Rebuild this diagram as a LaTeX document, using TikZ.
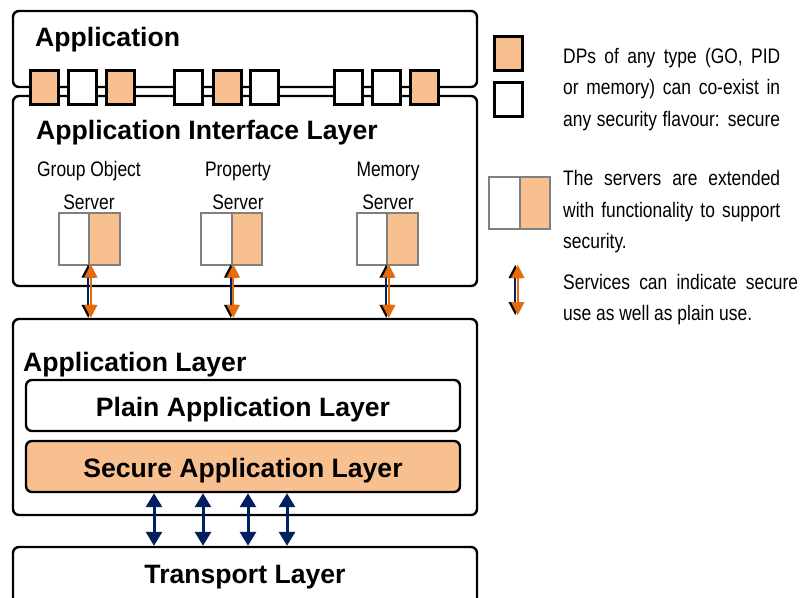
\documentclass[tikz,border=0pt]{standalone}
\usepackage{fontspec}
\setmainfont{Liberation Sans}
\newfontfamily\narrowfont[FakeStretch=0.83]{Liberation Sans}
\usetikzlibrary{arrows.meta,positioning}

\definecolor{dporange}{HTML}{F9C08F}
\definecolor{srvgray}{HTML}{7F7F7F}
\definecolor{navy}{HTML}{002060}
\definecolor{arrorange}{HTML}{E46C0A}

\tikzset{
    layer/.style={draw=black, line width=2.4pt, rounded corners=6pt, inner sep=0pt},
    sublayer/.style={layer, minimum width=434pt, minimum height=51pt,
        text height=22pt, text depth=0pt, font=\fontsize{26.6}{30}\selectfont\bfseries},
    title/.style={font=\fontsize{26.6}{30}\selectfont\bfseries, anchor=base west, inner sep=0pt},
    dp/.style={draw=black, line width=3pt, minimum width=28pt, minimum height=34pt, inner sep=0pt},
    half/.style={draw=srvgray, line width=2pt, minimum width=30.5pt, minimum height=52pt,
        inner sep=0pt, outer sep=0pt},
    small/.style={font=\narrowfont\fontsize{21}{31.5}\selectfont, inner sep=0pt},
    note/.style={small, anchor=north west, align=left},
    busarrow/.style={navy, line width=3pt,
        {Triangle[width=16pt,length=14pt]}-{Triangle[width=16pt,length=14pt]}},
    plainarrow/.style={navy, line width=1.6pt,
        {Triangle[black,width=13pt,length=13pt]}-{Triangle[black,width=13pt,length=13pt]}},
    securearrow/.style={arrorange, line width=2pt,
        {Triangle[width=13pt,length=13pt]}-{Triangle[width=13pt,length=13pt]}},
}

\begin{document}
\begin{tikzpicture}[x=1pt,y=-1pt]
    \clip (0,0) rectangle (803,597);

    % Application
    \node[layer, minimum width=464pt, minimum height=76pt] (app) at (245,49) {};
    \node[title] (apptxt) at (35,46) {Application};

    % Application interface layer
    \node[layer, minimum width=464pt, minimum height=190pt] (ail) at (245,191) {};
    \node[title] (ailtxt) at (36,139.5) {Application Interface Layer};

    % Data points on the border between the two
    \foreach \x/\c [count=\i] in {44.5/dporange,82.5/white,120.5/dporange,188.5/white,
            227/dporange,264.5/white,348.5/white,386/white,424.5/dporange} {
        \node[dp, fill=\c] (dp\i) at (\x,87.5) {};
    }

    % Application layer with plain and secure parts
    \node[layer, minimum width=464pt, minimum height=196pt] (al) at (245,417) {};
    \node[title] (altxt) at (23,371.5) {Application Layer};
    \node[sublayer, fill=white] (pal) at (243,405.5) {Plain Application Layer};
    \node[sublayer, fill=dporange] (sal) at (243,466.5) {Secure Application Layer};

    % Transport layer (runs off the bottom)
    \node[layer, minimum width=464pt, minimum height=80pt] (tl) at (245,587) {};
    \node[title, anchor=base] (tltxt) at (245,583) {Transport Layer};

    % Secure layer <-> transport
    \foreach \x in {154,203,248,287} {
        \draw[busarrow] (\x,0 |- sal.south) -- (\x,0 |- tl.north);
    }

    % Servers: plain half and secure half, linked to the application layer
    \foreach \n/\x/\lx/\txt in {go/89/89/Group Object, prop/231.5/238/Property, mem/387/388/Memory} {
        \node[half, anchor=east, fill=white] (\n pln) at (\x,238.5) {};
        \node[half, anchor=west, fill=dporange] (\n sec) at (\x,238.5) {};
        \node[small, anchor=base] (\n name) at (\lx,176.7) {\txt};
        \node[small, anchor=base] (\n srv) at (\lx,209.5) {Server};
        \draw[plainarrow] ([xshift=-0.8pt]\n sec.south west) -- ([xshift=-0.8pt]\n sec.south west |- al.north);
        \draw[securearrow] ([xshift=1.8pt]\n sec.south west) -- ([xshift=1.8pt]\n sec.south west |- al.north);
    }

    % Legend
    \node[dp, fill=dporange] (lgdpsec) at (508,53.5) {};
    \node[dp, fill=white] (lgdppln) at (508,99.5) {};
    \node[note] (lgdptxt) at (563,48) {%
        \makebox[217pt][s]{DPs of any type (GO, PID}\\
        \makebox[217pt][s]{or memory) can co-exist in}\\
        \makebox[217pt][s]{any security flavour: secure}};

    \node[half, anchor=east, fill=white] (lgpln) at (519.5,203) {};
    \node[half, anchor=west, fill=dporange] (lgsec) at (519.5,203) {};
    \node[note] (lgsrvtxt) at (563,170.4) {%
        \makebox[217pt][s]{The servers are extended}\\
        \makebox[217pt][s]{with functionality to support}\\
        security.};

    \coordinate (lgtop) at (516,265);
    \coordinate (lgbot) at (516,315);
    \draw[plainarrow] ([xshift=-0.8pt]lgtop) -- ([xshift=-0.8pt]lgbot);
    \draw[securearrow] ([xshift=1.8pt]lgtop) -- ([xshift=1.8pt]lgbot);
    \node[note] (lgarrtxt) at (563,273.8) {%
        \makebox[235pt][s]{Services can indicate secure}\\
        use as well as plain use.};

\end{tikzpicture}
\end{document}
